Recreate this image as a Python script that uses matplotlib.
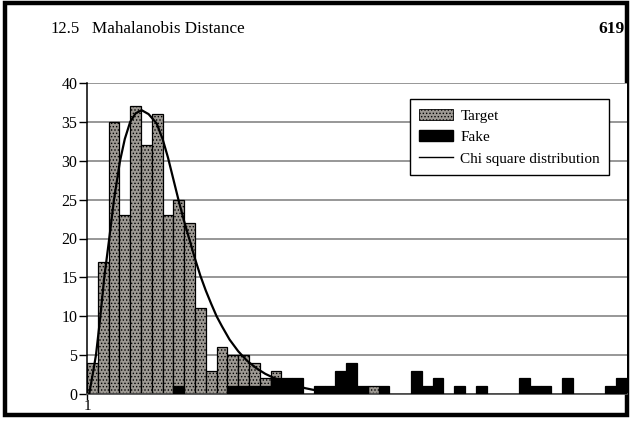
import matplotlib.pyplot as plt
from matplotlib.patches import Rectangle, Patch
from matplotlib.lines import Line2D

plt.rcParams['font.family'] = ['Liberation Serif', 'DejaVu Serif']
plt.rcParams['hatch.linewidth'] = 0.6

# counts per bin (bins 1..50)
target = [4, 17, 35, 23, 37, 32, 36, 23, 25, 22,
          11, 3, 6, 5, 5, 4, 2, 3, 0, 0,
          0, 0, 0, 0, 0, 0, 1, 0, 0, 0,
          0, 0, 0, 0, 0, 0, 0, 0, 0, 0,
          0, 0, 0, 0, 0, 0, 0, 0, 0, 0]
fake = [0, 0, 0, 0, 0, 0, 0, 0, 1, 0,
        0, 0, 0, 1, 1, 1, 1, 2, 2, 2,
        0, 1, 1, 3, 4, 1, 0, 1, 0, 0,
        3, 1, 2, 0, 1, 0, 1, 0, 0, 0,
        2, 1, 1, 0, 2, 0, 0, 0, 1, 2]
bins = list(range(1, len(target) + 1))

# chi square curve
chi_x = [1.2, 1.5, 1.83, 2.2, 2.6, 3.06, 3.5, 4.06, 4.5, 5.0, 5.5, 6.06, 6.7,
         7.45, 8.0, 8.5, 9.0, 9.5, 10.0, 10.5, 11.0, 11.5, 12.0, 12.5, 13.0,
         13.5, 14.2, 15.0, 15.8, 16.7, 17.5, 18.25, 19.0, 19.8, 20.5, 21.2,
         21.9, 23.0, 24.5, 26.0]
chi_y = [0, 2.3, 5, 9.5, 15, 20, 25, 30, 32.8, 35, 36.1, 36.5, 36.0,
         34.8, 32.8, 30.4, 27.6, 24.8, 22.2, 19.8, 17.4, 15.2, 13.3, 11.6, 10.0,
         8.7, 7.0, 5.5, 4.3, 3.3, 2.6, 2.1, 1.7, 1.3, 1.0, 0.75,
         0.55, 0.35, 0.18, 0.08]

fig = plt.figure(figsize=(6.32, 4.21), dpi=100)
ax = fig.add_axes([87/632, 27/421, 540/632, 311/421])

gray = '#9d9993'
ax.bar(bins, target, width=1, align='edge', color=gray, edgecolor='black',
       hatch='.....', linewidth=0.9, zorder=2)
ax.bar(bins, fake, width=1, align='edge', color='black', edgecolor='black',
       linewidth=0.9, zorder=3)
ax.plot(chi_x, chi_y, color='black', linewidth=1.6, zorder=4,
        solid_joinstyle='round')

ax.set_xlim(1, 51)
ax.set_ylim(0, 40)
ax.set_yticks(range(0, 41, 5))
ax.set_xticks([1])
ax.set_xticklabels(['1'])
ax.yaxis.grid(True, color='#7a7a7a', linewidth=1.1)
ax.set_axisbelow(True)
ax.spines['top'].set_visible(False)
ax.spines['right'].set_visible(False)
ax.spines['left'].set_linewidth(1.1)
ax.spines['bottom'].set_color('#555555')
ax.spines['bottom'].set_linewidth(1.3)
ax.tick_params(axis='y', direction='out', length=6, width=1, labelsize=11.5, pad=1)
ax.tick_params(axis='x', direction='out', length=4, width=1, labelsize=11, pad=0)

handles = [Patch(facecolor=gray, edgecolor='black', hatch='.....', linewidth=0.6),
           Patch(facecolor='black', edgecolor='black'),
           Line2D([0], [0], color='black', linewidth=1)]
leg = ax.legend(handles, ['Target', 'Fake', 'Chi square distribution'],
                loc='upper left', bbox_to_anchor=(0.598, 0.947), fontsize=11,
                frameon=True, fancybox=False, edgecolor='black', framealpha=1,
                handlelength=2.2, handleheight=0.75, borderpad=0.6,
                labelspacing=0.5, handletextpad=0.5, borderaxespad=0)
leg.get_frame().set_linewidth(1)
leg.set_zorder(5)

# page header
fig.text(50/632, 1 - 33/421, '12.5', fontsize=12)
fig.text(92/632, 1 - 33/421, 'Mahalanobis Distance', fontsize=12.3)
fig.text(625/632, 1 - 33/421, '619', fontsize=12.5, fontweight='bold', ha='right')

# scanned page frame
fig.patches.append(Rectangle((5/632, 6/421), 622/632, 412/421, transform=fig.transFigure,
                             fill=False, edgecolor='black', linewidth=3.2, zorder=-1))

fig.savefig('out.png', dpi=100)
